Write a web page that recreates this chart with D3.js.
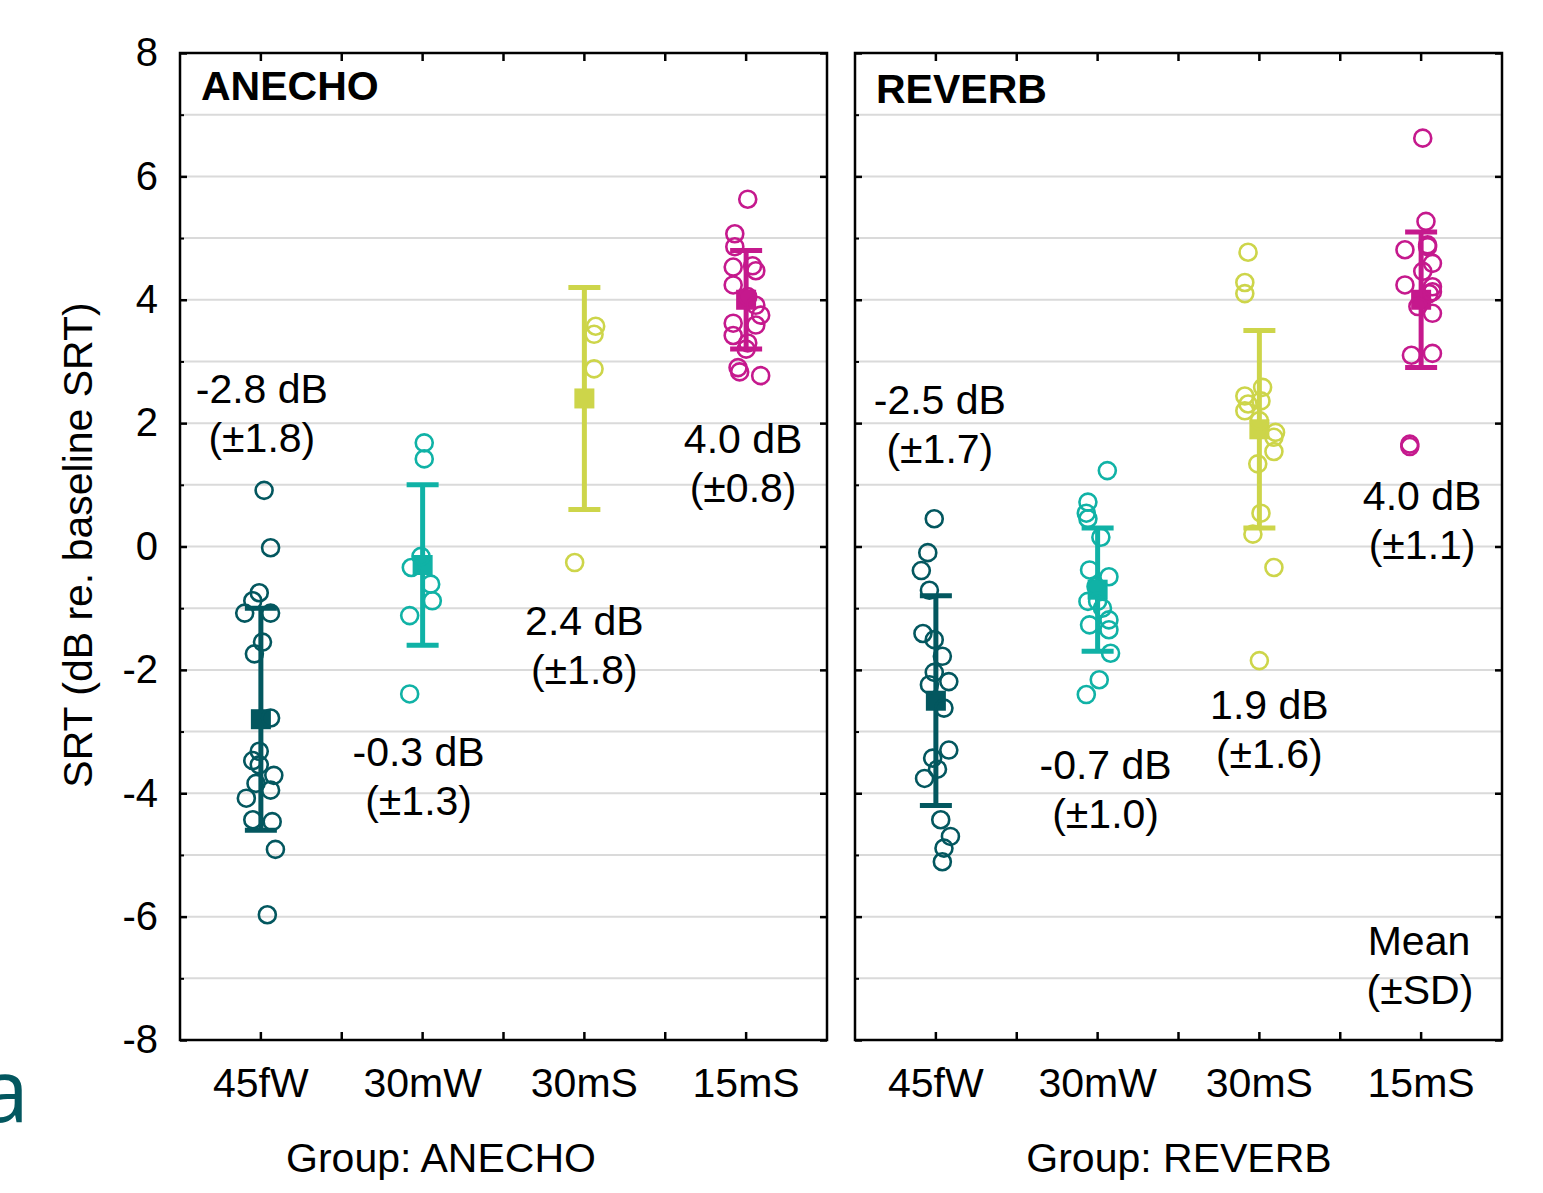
<!DOCTYPE html>
<html>
<head>
<meta charset="utf-8">
<script src="https://cdn.jsdelivr.net/npm/d3@7"></script>
<style>
  body { margin: 0; background: #fff; }
  text { font-family: "Liberation Sans", Arial, sans-serif; }
</style>
</head>
<body>
<div id="chart"></div>
<script>
// Data
const categories = ['45fW', '30mW', '30mS', '15mS'];
const groups = ['ANECHO', 'REVERB'];
const colors = ['#03575f', '#10b2a6', '#cdd54a', '#c5198d'];

const yTicks = [-8, -6, -4, -2, 0, 2, 4, 6, 8];

const anechoMeans = [-2.8, -0.3, 2.4, 4.0];
const anechoSDs = [1.8, 1.3, 1.8, 0.8];
const reverbMeans = [-2.5, -0.7, 1.9, 4.0];
const reverbSDs = [1.7, 1.0, 1.6, 1.1];

// individual SRT values per condition
const anechoScores = [
    [0.91, -0.02, -0.75, -0.88, -1.08, -1.08, -1.55, -1.74, -2.78, -3.32, -3.47, -3.54, -3.71, -3.84, -3.95, -4.08, -4.43, -4.46, -4.91, -5.97],
    [1.68, 1.42, -0.16, -0.34, -0.61, -0.88, -1.12, -2.39],
    [3.57, 3.44, 2.88, -0.26],
    [5.63, 5.07, 4.86, 4.53, 4.55, 4.47, 4.24, 4.05, 3.91, 3.75, 3.59, 3.62, 3.42, 3.30, 3.20, 2.90, 2.83, 2.77]
];
const reverbScores = [
    [0.45, -0.10, -0.39, -0.71, -1.41, -1.51, -1.78, -2.04, -2.19, -2.24, -2.62, -3.30, -3.43, -3.61, -3.76, -4.43, -4.70, -4.89, -5.11],
    [1.23, 0.72, 0.54, 0.45, 0.15, -0.38, -0.49, -0.65, -0.89, -0.89, -1.00, -1.19, -1.27, -1.35, -1.73, -2.16, -2.40],
    [4.77, 4.28, 4.10, 2.58, 2.44, 2.36, 2.31, 2.20, 2.04, 1.85, 1.77, 1.54, 1.34, 0.54, 0.20, -0.34, -1.85],
    [6.62, 5.27, 4.89, 4.86, 4.81, 4.59, 4.46, 4.24, 4.21, 4.13, 4.10, 3.89, 3.78, 3.10, 3.13, 1.66, 1.62]
];

// horizontal jitter of each point, as a fraction of the category band
const anechoJitter = [
    [.02, .06, -.01, -.05, -.10, .06, .01, -.04, .06, -.01, -.05, -.01, .08, -.03, .06, -.09, -.05, .07, .09, .04],
    [.01, .01, -.01, -.07, .05, .06, -.08, -.08],
    [.07, .06, .06, -.06],
    [.01, -.07, -.07, -.08, .04, .06, -.08, .01, .06, .09, .06, -.08, -.08, .01, 0, -.05, -.04, .09]
];
const reverbJitter = [
    [-.01, -.05, -.09, -.04, -.08, -.01, .04, -.01, .08, -.04, .05, .08, -.02, .01, -.07, .03, .09, .05, .04],
    [.06, -.06, -.07, -.06, .02, -.05, .07, -.01, -.06, 0, .03, .07, -.05, .07, .08, .01, -.07],
    [-.07, -.09, -.09, .02, -.09, .01, -.07, -.09, 0, .10, .09, .09, -.01, .01, -.04, .09, 0],
    [.01, .03, .04, .04, -.10, .07, .01, -.10, .07, .07, .05, -.02, .07, -.06, .07, -.07, -.07]
];

const width = 1543;
const height = 1193;
const plotTop = 53, plotBottom = 1040;

const panels = [
    { name: groups[0], x0: 180, x1: 827, means: anechoMeans, sds: anechoSDs, scores: anechoScores, jitter: anechoJitter,
      // label anchors: [dx from band centre, first baseline in data units]
      labels: [[1, 2.33], [-4, -3.56], [0, -1.43], [-3, 1.52]], titleDy: 47, groupX: 441 },
    { name: groups[1], x0: 855, x1: 1502, means: reverbMeans, sds: reverbSDs, scores: reverbScores, jitter: reverbJitter,
      labels: [[4, 2.15], [8, -3.77], [10, -2.80], [1, 0.59]], titleDy: 50, groupX: 1179 }
];

const svg = d3.select('#chart').append('svg')
    .attr('width', width)
    .attr('height', height);

const y = d3.scaleLinear().domain([-8, 8]).range([plotBottom, plotTop]);
const lineH = 49;

panels.forEach((p, pi) => {
    const x = d3.scaleBand().domain(categories).range([p.x0, p.x1]).padding(0);
    const bw = x.bandwidth();
    const g = svg.append('g');

    // grid lines at every unit
    g.selectAll('line.grid')
        .data(d3.range(-7, 8))
        .enter().append('line')
        .attr('x1', p.x0).attr('x2', p.x1)
        .attr('y1', d => y(d)).attr('y2', d => y(d))
        .style('stroke', '#dadada')
        .style('stroke-width', 2);

    // y ticks (inward), plain hyphen for negatives
    const majorL = d3.axisLeft(y).tickValues(yTicks).tickSize(-7).tickPadding(22)
        .tickFormat(pi === 0 ? (d => String(d)) : '');
    const axL = g.append('g').attr('transform', `translate(${p.x0},0)`).call(majorL);
    axL.select('.domain').remove();
    axL.selectAll('line').style('stroke', '#000').style('stroke-width', 2.5);
    axL.selectAll('text').style('font-size', '40px').style('fill', '#000')
        .style('font-family', '"Liberation Sans", Arial, sans-serif');

    const minorL = d3.axisLeft(y).tickValues(d3.range(-7, 8, 2)).tickSize(-4).tickFormat('');
    const axM = g.append('g').attr('transform', `translate(${p.x0},0)`).call(minorL);
    axM.select('.domain').remove();
    axM.selectAll('line').style('stroke', '#000').style('stroke-width', 2);

    const majorR = d3.axisRight(y).tickValues(yTicks).tickSize(-7).tickFormat('');
    const axR = g.append('g').attr('transform', `translate(${p.x1},0)`).call(majorR);
    axR.select('.domain').remove();
    axR.selectAll('line').style('stroke', '#000').style('stroke-width', 2.5);

    // x ticks at band centres and band edges, top and bottom
    const xTickPos = [];
    categories.forEach((c, i) => {
        if (i > 0) xTickPos.push(x(c));
        xTickPos.push(x(c) + bw / 2);
    });
    [[plotBottom, -8], [plotTop, 8]].forEach(([yy, len]) => {
        g.selectAll(null)
            .data(xTickPos)
            .enter().append('line')
            .attr('x1', d => d).attr('x2', d => d)
            .attr('y1', yy).attr('y2', yy + len)
            .style('stroke', '#000')
            .style('stroke-width', 2.5);
    });

    // category labels
    g.selectAll('text.cat')
        .data(categories)
        .enter().append('text')
        .attr('x', d => x(d) + bw / 2)
        .attr('y', 1097)
        .attr('text-anchor', 'middle')
        .style('font-size', '41px')
        .text(d => d);

    g.append('text')
        .attr('x', p.groupX)
        .attr('y', 1172)
        .attr('text-anchor', 'middle')
        .style('font-size', '41px')
        .text('Group: ' + p.name);

    // panel title
    g.append('text')
        .attr('x', p.x0 + 21)
        .attr('y', plotTop + p.titleDy)
        .style('font-size', '41px')
        .style('font-weight', 'bold')
        .text(p.name);

    // error bars and means
    categories.forEach((c, i) => {
        const cx = x(c) + bw / 2;
        const col = colors[i];
        const m = p.means[i], sd = p.sds[i];

        g.append('line')
            .attr('x1', cx).attr('x2', cx)
            .attr('y1', y(m - sd)).attr('y2', y(m + sd))
            .style('stroke', col).style('stroke-width', 5);
        [m - sd, m + sd].forEach(v => {
            g.append('line')
                .attr('x1', cx - 16).attr('x2', cx + 16)
                .attr('y1', y(v)).attr('y2', y(v))
                .style('stroke', col).style('stroke-width', 5);
        });
        g.append('rect')
            .attr('x', cx - 10).attr('y', y(m) - 10)
            .attr('width', 20).attr('height', 20)
            .style('fill', col);

        // individual points
        g.selectAll(null)
            .data(p.scores[i].map((v, k) => ({ v: v, j: p.jitter[i][k] })))
            .enter().append('circle')
            .attr('cx', d => cx + d.j * bw)
            .attr('cy', d => y(d.v))
            .attr('r', 8.5)
            .style('fill', 'none')
            .style('stroke', col)
            .style('stroke-width', 2.6);

        // mean / sd annotation
        const [dx, ly] = p.labels[i];
        const t = g.append('text')
            .attr('text-anchor', 'middle')
            .style('font-size', '41px');
        t.append('tspan')
            .attr('x', cx + dx).attr('y', y(ly))
            .text(`${m.toFixed(1)} dB`);
        t.append('tspan')
            .attr('x', cx + dx).attr('y', y(ly) + lineH)
            .text(`(±${sd.toFixed(1)})`);
    });

    // frame
    g.append('rect')
        .attr('x', p.x0).attr('y', plotTop)
        .attr('width', p.x1 - p.x0).attr('height', plotBottom - plotTop)
        .style('fill', 'none')
        .style('stroke', '#000')
        .style('stroke-width', 2.5);
});

// legend note in the right panel
const legend = svg.append('text')
    .attr('text-anchor', 'middle')
    .style('font-size', '41px');
legend.append('tspan').attr('x', 1419).attr('y', y(-6.62)).text('Mean');
legend.append('tspan').attr('x', 1420).attr('y', y(-6.62) + lineH).text('(±SD)');

// y axis title
svg.append('text')
    .attr('transform', 'translate(92,545) rotate(-90)')
    .attr('text-anchor', 'middle')
    .style('font-size', '41px')
    .text('SRT (dB re. baseline SRT)');

// panel letter at the page edge
svg.append('text')
    .attr('x', -20)
    .attr('y', 1122)
    .style('font-family', '"Open Sans", "Noto Sans", sans-serif')
    .style('font-size', '88px')
    .style('fill', '#03575f')
    .text('a');
</script>
</body>
</html>
